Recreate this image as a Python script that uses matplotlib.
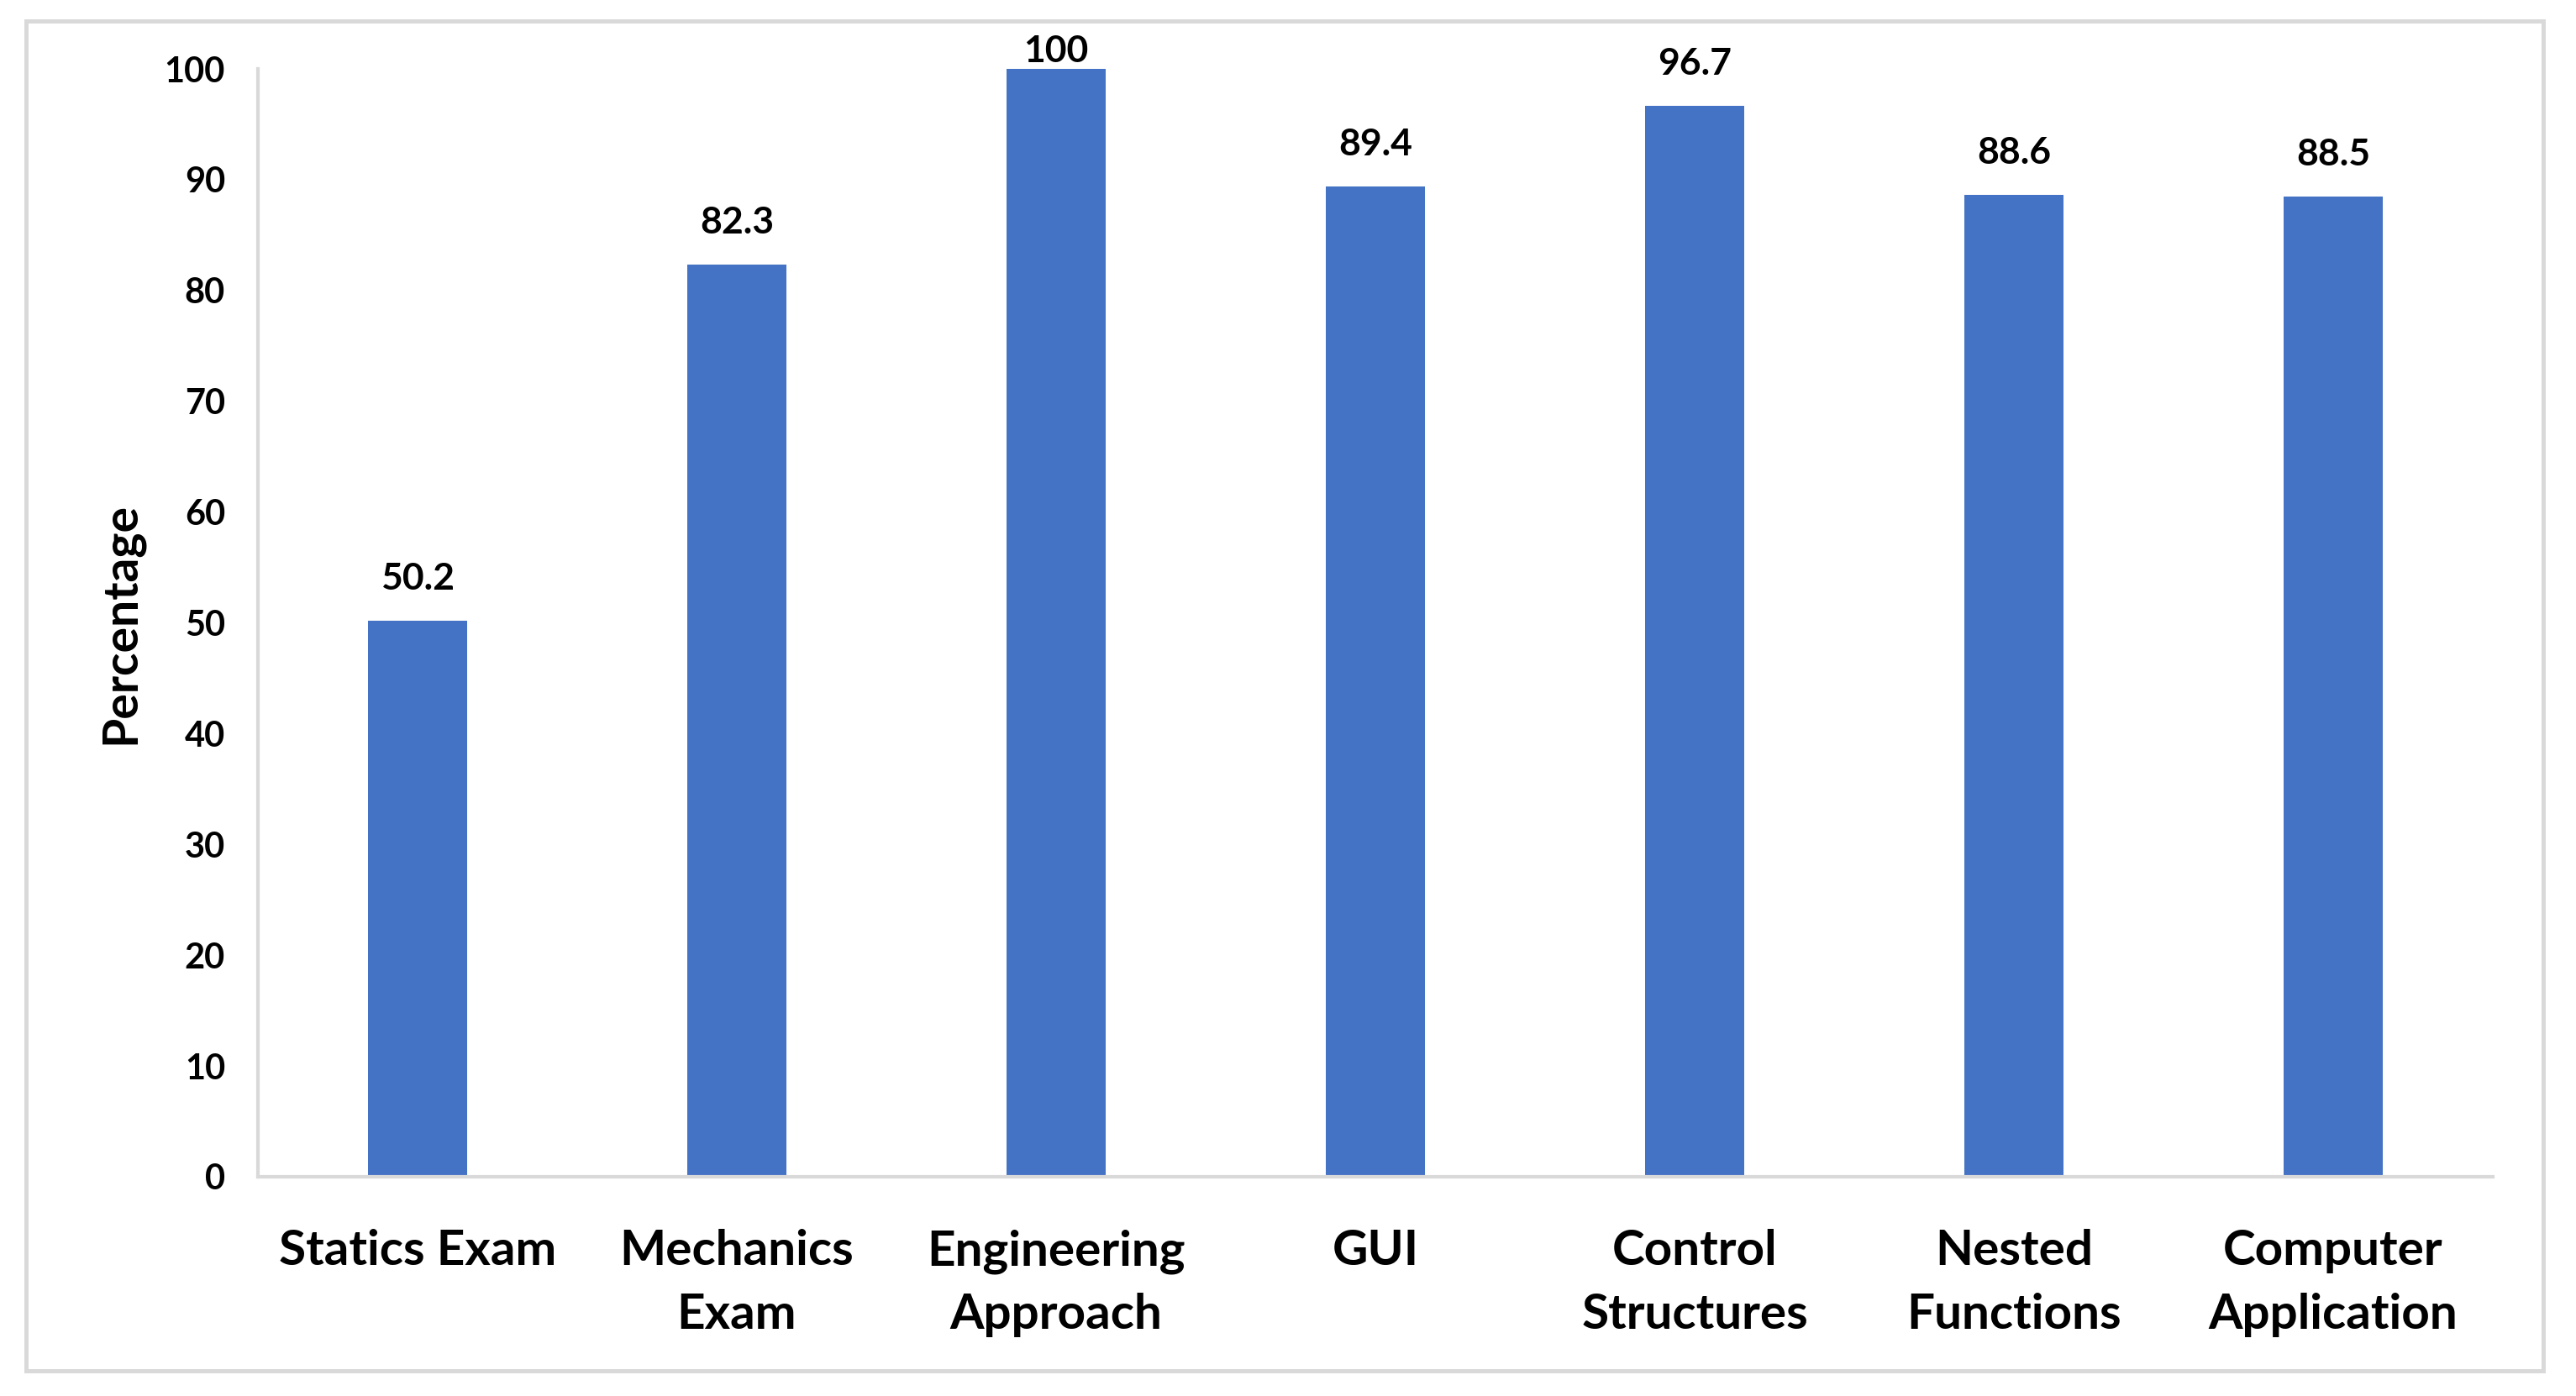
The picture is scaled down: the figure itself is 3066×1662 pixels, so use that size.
import matplotlib
matplotlib.use("Agg")
import matplotlib.pyplot as plt
from matplotlib.patches import Rectangle

categories = ["Statics Exam", "Mechanics\nExam", "Engineering\nApproach", "GUI",
              "Control\nStructures", "Nested\nFunctions", "Computer\nApplication"]
values = [50.2, 82.3, 100, 89.4, 96.7, 88.6, 88.5]
value_labels = ["50.2", "82.3", "100", "89.4", "96.7", "88.6", "88.5"]
yticks = [0, 10, 20, 30, 40, 50, 60, 70, 80, 90, 100]

plt.rcParams['font.family'] = ['Lato', 'DejaVu Sans']

W, H, DPI = 3066, 1662, 200
fig = plt.figure(figsize=(W / DPI, H / DPI), dpi=DPI)
fig.patch.set_facecolor('white')

# outer chart border
fig.add_artist(Rectangle((31 / W, 1 - 1632 / H), (3027 - 31) / W, (1632 - 25) / H,
                         transform=fig.transFigure, fill=False,
                         edgecolor='#d9d9d9', linewidth=1.8))

ax = fig.add_axes([307 / W, 1 - 1401 / H, (2967 - 307) / W, (1401 - 82) / H])
x = list(range(len(categories)))
ax.bar(x, values, width=0.31, color='#4472C4', zorder=2)
ax.set_xlim(-0.5, len(categories) - 0.5)
ax.set_ylim(0, 100)
ax.set_yticks(yticks)
ax.set_yticklabels([str(t) for t in yticks], fontsize=15, fontweight='bold')
ax.set_xticks(x)
ax.set_xticklabels(categories, fontsize=21, fontweight='bold', linespacing=1.52)
ax.tick_params(axis='y', length=0, pad=14)
ax.tick_params(axis='x', length=0, pad=22.5)
for s in ['top', 'right']:
    ax.spines[s].set_visible(False)
for s in ['left', 'bottom']:
    ax.spines[s].set_color('#d9d9d9')
    ax.spines[s].set_linewidth(1.5)
ax.set_ylabel("Percentage", fontsize=20.5, fontweight='bold', labelpad=9)

ymax = ax.get_ylim()[1]
for xi, v, lab in zip(x, values, value_labels):
    off = 18 if v < ymax * 0.97 else 7.5
    ax.annotate(lab, (xi, v), xytext=(0, off), textcoords='offset points',
                ha='center', va='center', fontsize=16, fontweight='bold',
                annotation_clip=False)

fig.savefig("out.png", dpi=DPI)
